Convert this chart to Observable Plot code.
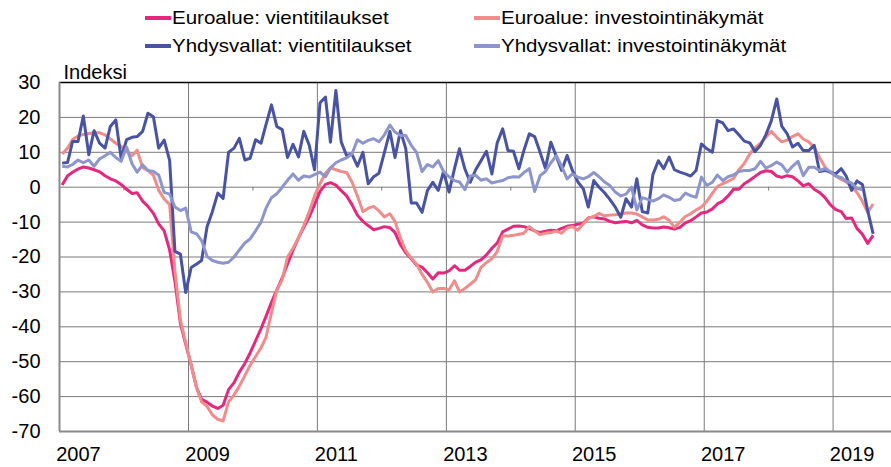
<!DOCTYPE html>
<html><head><meta charset="utf-8">
<script src="https://cdn.jsdelivr.net/npm/d3@7"></script>
<script src="https://cdn.jsdelivr.net/npm/@observablehq/plot@0.6"></script>
<style>
body{margin:0;background:#fff;font-family:"Liberation Sans",Arial,sans-serif;}
#wrap{position:relative;width:891px;height:467px;overflow:hidden;}
#legend{position:absolute;left:0;top:0;width:891px;height:60px;}
.sw{position:absolute;width:26px;height:4px;}
.lbl{position:absolute;font-size:19px;line-height:22px;white-space:nowrap;transform:scaleX(1.08);transform-origin:0 50%;color:#000;}
#chart{position:absolute;left:0;top:60px;}
</style></head>
<body>
<div id="wrap"><div id="legend"></div><div id="chart"></div></div>
<script>
// Series names (legend order)
const seriesNames = ["Euroalue: vientitilaukset", "Euroalue: investointinäkymät", "Yhdysvallat: vientitilaukset", "Yhdysvallat: investointinäkymät"];
const seriesColors = ["#e5287d", "#f08c8a", "#4953a3", "#8d96cc"];
const startYear = 2007; // monthly data from January 2007
const yTicks = [-70, -60, -50, -40, -30, -20, -10, 0, 10, 20, 30];
const labelYears = [2007, 2009, 2011, 2013, 2015, 2017, 2019];
const minorYears = [2008, 2010, 2012, 2014, 2016, 2018];

const euroVienti = [0.6,3.3,4.3,5.2,5.8,5.5,5,4.4,3.3,2.4,1.8,0.8,-0.6,-1.8,-1.6,-4,-5.5,-7.5,-10.5,-12.5,
-18,-27,-39,-45,-51,-57.5,-60.8,-61.6,-62.7,-63.4,-62.5,-58,-56,-53,-50.5,-47.5,-44,-40.5,-37,-33,
-29.5,-26,-22,-18,-14.5,-11.5,-8.5,-5,-1.2,0.8,1.3,0.6,-1,-2.5,-5,-8,-9.8,-11,-12.2,-11.8,
-11.3,-11.6,-13,-16.5,-18.8,-20.5,-22.3,-22.9,-24.5,-26.3,-24.5,-24.6,-24,-22.5,-23.8,-23.8,-22.7,-21.5,-20.8,-19.4,
-17.5,-16,-12.8,-12,-11.2,-11.1,-11.3,-11.8,-12.5,-13,-12.6,-12.3,-12.5,-11.8,-11.2,-11,-10.6,-10.3,-8.8,-8.5,
-8.9,-9.1,-9.8,-10.2,-10,-9.8,-10.2,-9.5,-10.8,-11.5,-11.7,-11.7,-11.4,-11.6,-12,-11.5,-10.2,-9.6,-8.5,-7.4,
-7.1,-6.2,-4.8,-4,-2.5,-0.6,-0.6,1,2,3.1,4.2,4.7,4.5,3.2,2.8,3.3,3,1.8,0.4,1,
-0.6,-1.5,-3,-5,-6.4,-7,-9,-8.8,-11.8,-13.5,-16.1,-13.8];

const euroInvest = [9.5,11.2,13.6,14.7,15.1,15.4,15.6,15.6,15,13.8,12.6,11.7,10.3,9,10.6,5.6,4.8,3.4,-0.9,-3.4,
-5,-24,-38,-44.5,-51,-57.5,-61.5,-62.8,-65.2,-66.5,-67,-61.5,-59.5,-57,-54,-51,-48.5,-46,-43,-36,
-29.5,-26.5,-20,-17.5,-14.5,-11,-7,-2.5,1,4,5.6,5,4.5,4.2,1.5,-2.5,-7,-6,-5.5,-6.8,
-8.5,-7.6,-9.8,-14.6,-18.2,-20.3,-22,-25,-27.3,-30,-29,-29,-29.4,-26.8,-30,-29,-27.8,-26.5,-23,-21.6,
-20.5,-18.4,-14,-14,-13.8,-13.5,-13.2,-11.3,-12.5,-13.6,-13.2,-13,-12.5,-13.2,-11.7,-11.3,-12.3,-10.5,-9,-8.4,
-7.5,-8.2,-8,-7.9,-7.7,-7.4,-7.4,-7.7,-8.5,-9.4,-9.4,-9.2,-8.5,-9.5,-11.5,-10,-8.4,-7.6,-6.5,-5.7,
-4,-1.8,0.2,1,1.7,2.5,5,6.8,9.5,11.3,12.6,14.3,16,14.3,13,13.5,14.5,15.3,13.8,13,
11.5,8.5,5.8,4.2,3.2,2.2,1.5,0.3,-1.5,-4,-7.2,-4.8];

const usVienti = [6.9,7.1,13.1,13.1,20.4,9.3,16.2,12.6,11.2,17.4,19.3,8.3,13.6,14.3,14.5,16,21.2,20.2,11.2,13.5,
7.7,-18.4,-19.2,-30.2,-23,-22,-21,-11.3,-7,-1.7,-3.2,10,11.2,14,7.8,8.3,13.6,12.6,17.9,23.6,
17.4,16.5,8.5,12.3,8.7,16,12,5,24.2,25.8,12.9,27.7,13,9,9.5,6,10,1,3,4,
10,16,8.5,16.2,11,-4.5,-4.5,-7.2,-0.9,1.4,-0.9,4.5,-1.4,5.3,11,5.2,1.4,5,7.6,10.3,
3.8,12.7,16.7,10.5,10.3,5.3,10.5,15.3,14.5,10,5.4,12.9,8.8,4.8,9.1,4.8,1.5,-0.5,-5.7,1.9,
0,-1.6,-3.5,-5.7,-8.6,-3.3,-5.7,2.4,-7,-7.4,3.6,7.6,5.3,8.6,5,4.3,3.8,3.2,4.8,12.4,
11,10,19.1,18.4,16.2,16.7,15,13.2,12.7,10.2,12,15,19,25.3,17.5,15.3,11.5,12.6,10.5,10.5,
12,4.5,4.8,4.3,3.8,5.3,3.2,-0.9,1.8,0.8,-6.7,-13.4];

const usInvest = [6,5.8,6.5,7.8,7,7.8,6,8.1,9,10,8.5,7.4,11.5,6.7,4.3,6.4,4.8,4.5,3.5,-1.5,
-2,-5.7,-6.7,-6,-12.8,-13.4,-15.3,-19.8,-21,-21.5,-21.8,-21.5,-20,-18,-16,-14.8,-12.5,-10,-6,-3,
-1.9,0,2,3.8,2,3.2,2.9,3.6,4.3,3,5.5,7,7.8,8.4,9.5,13.6,12.6,13.4,13.9,13,
15,17.8,15.8,14.8,14.8,12,10,4.5,6.5,5.8,7.6,4.5,3,1.9,1.5,-0.7,3.2,3.4,2,2.4,
1.2,1.6,1.9,2.7,3,2.9,4.2,5.3,-1.2,3.3,4.5,7,9,6,2.4,3.8,2.9,2.4,3,4.2,
3,1.5,0.5,-1.4,-2.5,-2,0,-6.5,-3,-3.5,-4,-3.3,-2.2,-2.9,-3.8,-3.5,-1.7,-2.4,-2.9,2.9,
0.5,1.4,3.5,1.9,3,3.5,4.5,4.8,4.8,5.3,7.4,5.5,6.2,7.2,6.4,4.3,6,7.4,3.3,5.7,
5.7,4.8,5.3,4.5,3.2,2.8,1.7,1.2,-0.4,-0.7];

const allValues = [euroVienti, euroInvest, usVienti, usInvest];
const rows = allValues.flatMap((vals, s) => vals.map((v, i) => ({
  series: seriesNames[s],
  date: new Date(Date.UTC(startYear, i, 16)),
  value: v
})));

// Legend (HTML, above the SVG)
const legend = document.getElementById("legend");
const legendPos = [[145, 0], [474, 0], [145, 1], [474, 1]];
seriesNames.forEach((name, k) => {
  const [lx, row] = legendPos[k];
  const sw = document.createElement("div");
  sw.className = "sw";
  sw.style.left = lx + "px";
  sw.style.top = (row ? 43.5 : 16) + "px";
  sw.style.background = seriesColors[k];
  legend.appendChild(sw);
  const t = document.createElement("div");
  t.className = "lbl";
  t.style.left = (lx + 27) + "px";
  t.style.top = (row ? 34.5 : 7) + "px";
  t.textContent = name;
  legend.appendChild(t);
});

const yearDate = y => new Date(Date.UTC(y, 0, 1));
const xStart = yearDate(2007);

const chart = Plot.plot({
  width: 891,
  height: 407,
  marginLeft: 59,
  marginRight: 0,
  marginTop: 22,
  marginBottom: 36,
  style: {fontFamily: "'Liberation Sans', Arial, sans-serif", fontSize: "20px", color: "#000", background: "#fff", overflow: "visible"},
  x: {type: "utc", domain: [xStart, new Date(Date.UTC(2019, 10, 28))]},
  y: {domain: [-70, 30]},
  color: {domain: seriesNames, range: seriesColors},
  marks: [
    Plot.ruleY(yTicks, {stroke: "#7a7a7a", strokeWidth: 1}),
    Plot.ruleX(labelYears.map(yearDate), {stroke: "#7a7a7a", strokeWidth: 1}),
    Plot.ruleX(minorYears.map(yearDate), {y1: 0, y2: -1.1, stroke: "#7a7a7a"}),
    Plot.ruleY([30], {stroke: "#000", strokeWidth: 1.5}),
    Plot.ruleY([-70], {stroke: "#8a8a8a", strokeWidth: 2}),
    Plot.ruleX([xStart], {stroke: "#8a8a8a", strokeWidth: 2}),
    Plot.line(rows, {x: "date", y: "value", z: "series", stroke: "series", strokeWidth: 3, strokeLinejoin: "round", strokeLinecap: "butt"}),
    Plot.axisY({ticks: yTicks, tickSize: 0, tickPadding: 19, tickFormat: d => String(d), fontSize: 20, label: null}),
    Plot.axisX({ticks: labelYears.map(yearDate), tickSize: 0, tickPadding: 15, tickFormat: d3.utcFormat("%Y"), fontSize: 20, dx: 19, label: null}),
    Plot.text(["Indeksi"], {frameAnchor: "top-left", textAnchor: "start", lineAnchor: "bottom", dx: 4, dy: -4, fontSize: 20})
  ]
});
document.getElementById("chart").appendChild(chart);
</script>
</body></html>
